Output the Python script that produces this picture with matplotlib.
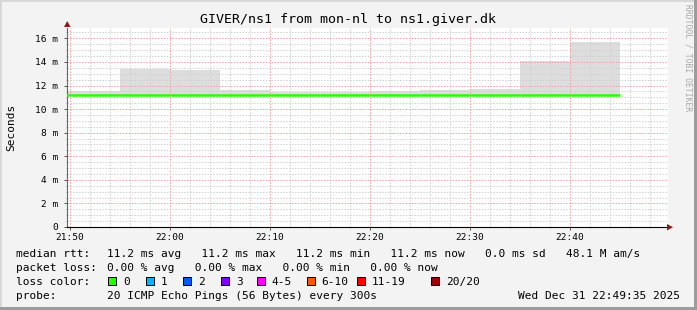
import numpy as np
import matplotlib
matplotlib.use("Agg")
import matplotlib.pyplot as plt
from matplotlib.patches import Rectangle, Polygon

W, H = 697, 310

title = "GIVER/ns1 from mon-nl to ns1.giver.dk"

# 5 minute steps, minutes after 21:50
step_start = [-5, 0, 5, 10, 15, 20, 25, 30, 35, 40, 45, 50]
rtt_max = [11.53, 11.53, 13.40, 13.32, 11.62, 11.48, 11.48, 11.52, 11.62, 11.70, 14.05, 15.67]
rtt_min = [11.15, 11.15, 11.15, 11.15, 11.15, 11.15, 11.15, 11.15, 11.15, 11.15, 11.15, 11.15]
rtt_median = [11.22, 11.22, 11.22, 11.22, 11.22, 11.22, 11.22, 11.22, 11.22, 11.22, 11.22, 11.22]
step_len = 5

x_ticks = [0, 10, 20, 30, 40, 50]
x_labels = ["21:50", "22:00", "22:10", "22:20", "22:30", "22:40"]
y_ticks = [0, 2, 4, 6, 8, 10, 12, 14, 16]
y_labels = ["0", "2 m", "4 m", "6 m", "8 m", "10 m", "12 m", "14 m", "16 m"]

loss_names = ["0", "1", "2", "3", "4-5", "6-10", "11-19", "20/20"]
loss_colors = ["#26ff00", "#00b8ff", "#0059ff", "#7e00ff", "#ff00ff", "#ff5500", "#ff0000", "#a10000"]

rtt_line = "11.2 ms avg   11.2 ms max   11.2 ms min   11.2 ms now   0.0 ms sd   48.1 M am/s"
loss_line = "0.00 % avg   0.00 % max   0.00 % min   0.00 % now"
probe_line = "20 ICMP Echo Pings (56 Bytes) every 300s"
stamp = "Wed Dec 31 22:49:35 2025"

MONO = "DejaVu Sans Mono"
plt.rcParams['font.family'] = MONO


def fx(x):
    return x / W


def fy(y):
    return 1 - y / H


fig = plt.figure(figsize=(W / 100, H / 100), dpi=100)
fig.patch.set_facecolor("#f3f3f3")

# frame
fig.patches.append(Rectangle((0, fy(2)), 1, 2 / H, transform=fig.transFigure,
                             color="#d8d8d8", lw=0))
fig.patches.append(Rectangle((0, 0), 2 / W, 1, transform=fig.transFigure,
                             color="#d8d8d8", lw=0))
fig.patches.append(Rectangle((0, 0), 1, 3 / H, transform=fig.transFigure,
                             color="#9c9c9c", lw=0))
fig.patches.append(Rectangle((fx(W - 3), 0), 3 / W, 1, transform=fig.transFigure,
                             color="#9c9c9c", lw=0))

ax = fig.add_axes([fx(67), fy(227), (668 - 67) / W, (227 - 28) / H])
ax.set_facecolor("white")

# smoke
heights = [a - b for a, b in zip(rtt_max, rtt_min)]
ax.bar(step_start, heights, bottom=rtt_min, width=step_len, align="edge",
       color="#dddddd", lw=0, zorder=1)
# median
ax.hlines(rtt_median, step_start, [s + step_len for s in step_start],
          colors="#26ff00", lw=1.8, zorder=3)

ax.set_xlim(-0.3, 59.8)
ax.set_ylim(0, 16.88)

ax.set_xticks(x_ticks)
ax.set_xticklabels(x_labels)
ax.set_xticks(np.arange(0, 60, 2), minor=True)
ax.set_yticks(y_ticks)
ax.set_yticklabels(y_labels)
ax.set_yticks(np.arange(0, 16.9, 0.5), minor=True)

ax.grid(which="minor", color="#d0d0d0", lw=0.7, linestyle=(0, (1.5, 1.5)), zorder=1.5)
ax.grid(which="major", color="#f2a0a0", lw=0.7, linestyle=(0, (1.5, 1.5)), zorder=1.6)

ax.tick_params(axis="both", which="major", labelsize=6.8, length=2.5, width=0.7,
               color="#555555", labelcolor="#000000")
ax.tick_params(axis="both", which="minor", length=1, width=0.5, color="#999999")
ax.tick_params(axis="y", pad=4)
ax.tick_params(axis="x", pad=2)

for s in ["top", "right"]:
    ax.spines[s].set_visible(False)
ax.spines["left"].set_color("#666666")
ax.spines["left"].set_linewidth(0.8)
ax.spines["bottom"].set_color("#000000")
ax.spines["bottom"].set_linewidth(0.8)

# axis arrows
fig.patches.append(Polygon([(fx(64), fy(27)), (fx(70.5), fy(27)), (fx(67.2), fy(21))],
                           closed=True, transform=fig.transFigure, color="#8b1a1a", lw=0))
fig.patches.append(Polygon([(fx(667), fy(224)), (fx(667), fy(230.5)), (fx(673), fy(227.2))],
                           closed=True, transform=fig.transFigure, color="#8b1a1a", lw=0))

# title and labels
fig.text(fx(348), fy(19), title, ha="center", va="center", fontsize=9.6, color="#000000")
fig.text(fx(11), fy(127), "Seconds", ha="center", va="center", rotation=90,
         fontsize=8, color="#000000")
fig.text(fx(688), fy(58), "RRDTOOL / TOBI OETIKER", ha="center", va="center",
         rotation=270, fontsize=5.8, color="#a8a8a8")

# legend
fs = 8
fig.text(fx(16), fy(254), "median rtt:", ha="left", va="center", fontsize=fs)
fig.text(fx(107), fy(254), rtt_line, ha="left", va="center", fontsize=fs)
fig.text(fx(16), fy(268.3), "packet loss:", ha="left", va="center", fontsize=fs)
fig.text(fx(107), fy(268.3), loss_line, ha="left", va="center", fontsize=fs)
fig.text(fx(16), fy(281.7), "loss color:", ha="left", va="center", fontsize=fs)

sq_x = [108.3, 145.7, 183.3, 221, 256.7, 306.7, 356.7, 430.7]
for x0, name, col in zip(sq_x, loss_names, loss_colors):
    fig.patches.append(Rectangle((fx(x0), fy(284.5)), 8 / W, 8 / H, transform=fig.transFigure,
                                 facecolor=col, edgecolor="#000000", lw=0.7))
    fig.text(fx(x0 + 15), fy(281.7), name, ha="left", va="center", fontsize=fs)

fig.text(fx(16), fy(296), "probe:", ha="left", va="center", fontsize=fs)
fig.text(fx(107), fy(296), probe_line, ha="left", va="center", fontsize=fs)
fig.text(fx(680), fy(296), stamp, ha="right", va="center", fontsize=fs)

fig.savefig("out.png", dpi=100, facecolor=fig.get_facecolor())
